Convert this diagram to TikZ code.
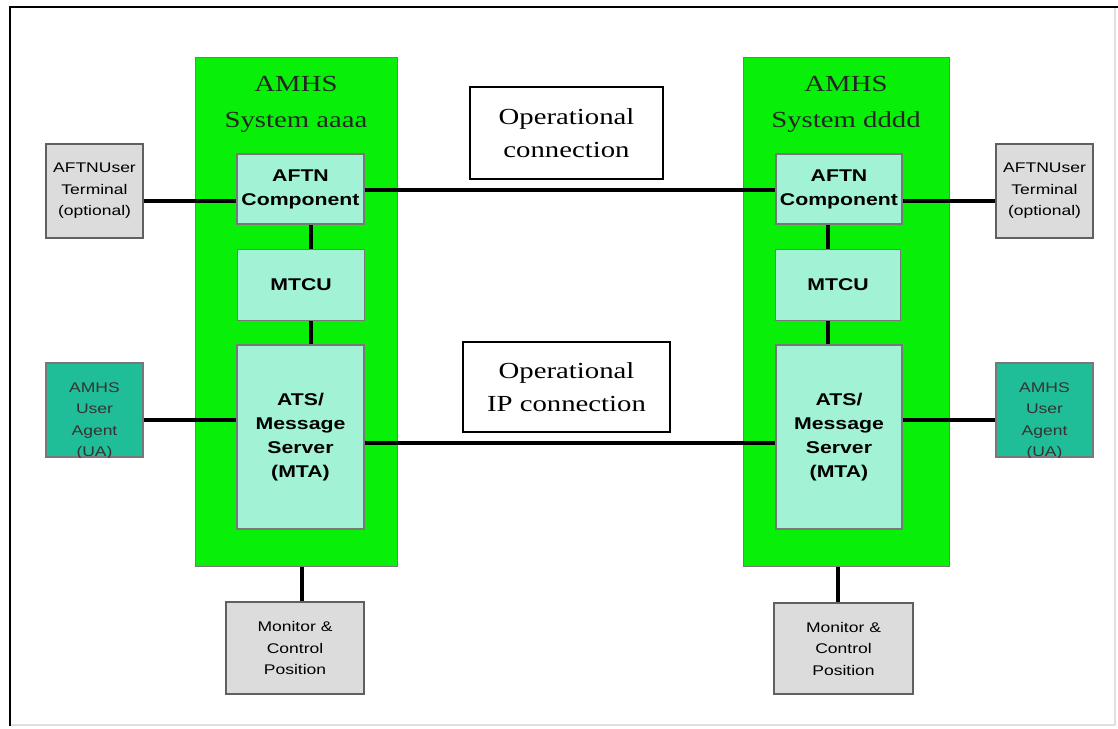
\documentclass[tikz,border=0pt]{standalone}
\usepackage{fontspec}
\newfontfamily\serf{Liberation Serif}[FakeStretch=1.25]
\newfontfamily\sanf{Liberation Sans}[FakeStretch=1.25]
\definecolor{sysgreen}{RGB}{8,240,8}
\definecolor{aqua}{RGB}{162,242,214}
\definecolor{teal}{RGB}{32,190,152}
\definecolor{boxgray}{RGB}{220,220,220}
\definecolor{edgegray}{RGB}{120,120,120}
\begin{document}
\begin{tikzpicture}[x=1pt,y=-1pt,
  sysbox/.style={draw=edgegray,line width=1pt,fill=sysgreen,inner sep=0pt},
  compbox/.style={draw=edgegray,line width=1.5pt,fill=aqua,inner sep=0pt,align=center,
    font=\sanf\bfseries\fontsize{17}{24}\selectfont},
  extbox/.style={draw=edgegray!80!black,line width=1.5pt,fill=boxgray,inner sep=0pt,align=center,
    font=\sanf\fontsize{14}{21.5}\selectfont},
  uabox/.style={draw=edgegray,line width=1.5pt,fill=teal,inner sep=0pt},
  labelbox/.style={draw=black,line width=1.8pt,fill=white,inner sep=0pt,align=center,
    font=\serf\fontsize{23}{33}\selectfont},
  titletext/.style={align=center,font=\serf\fontsize{23}{36}\selectfont,text=black!85},
  conn/.style={line width=3.4pt,draw=black}
]
\useasboundingbox (0,0) rectangle (1118,728);
\fill[white] (0,0) rectangle (1118,728);
% frame
\draw[black!12,line width=2pt] (1115,7) -- (1115,725) -- (10,725);
\draw[black,line width=2.8pt] (10,726) -- (10,7) -- (1118,7);

% left system
\node[sysbox,minimum width=202pt,minimum height=509pt] (gL) at (296,311.5) {};
\node[titletext] (ttL) at (296,104) {AMHS\\System aaaa};
\node[compbox,minimum width=127pt,minimum height=70pt] (aL) at (300.5,189) {AFTN\\Component};
\node[compbox,minimum width=127pt,minimum height=71pt] (mL) at (301,285) {MTCU};
\node[compbox,minimum width=127pt,minimum height=184pt] (sL) at (300.5,437) {ATS/\\Message\\Server\\(MTA)};
\node[extbox,minimum width=97pt,minimum height=94pt] (tL) at (94.5,191) {AFTNUser\\Terminal\\(optional)};
\node[uabox,minimum width=97pt,minimum height=94pt] (uL) at (94.5,410) {};
\begin{scope}
  \clip (uL.south west) rectangle (uL.north east);
  \node[align=center,font=\sanf\fontsize{14}{21.5}\selectfont,text=black!80] (uLt) at (94.5,421) {AMHS\\User\\Agent\\(UA)};
\end{scope}
\node[extbox,minimum width=138pt,minimum height=92pt] (cL) at (295,648) {Monitor \&\\Control\\Position};

% right system
\node[sysbox,minimum width=206pt,minimum height=509pt] (gR) at (846,311.5) {};
\node[titletext] (ttR) at (846,104) {AMHS\\System dddd};
\node[compbox,minimum width=126pt,minimum height=70pt] (aR) at (839,189) {AFTN\\Component};
\node[compbox,minimum width=125pt,minimum height=71pt] (mR) at (838,285) {MTCU};
\node[compbox,minimum width=126pt,minimum height=184pt] (sR) at (839,437) {ATS/\\Message\\Server\\(MTA)};
\node[extbox,minimum width=97pt,minimum height=94pt] (tR) at (1044.5,191) {AFTNUser\\Terminal\\(optional)};
\node[uabox,minimum width=97pt,minimum height=94pt] (uR) at (1044.5,410) {};
\begin{scope}
  \clip (uR.south west) rectangle (uR.north east);
  \node[align=center,font=\sanf\fontsize{14}{21.5}\selectfont,text=black!80] (uRt) at (1044.5,421) {AMHS\\User\\Agent\\(UA)};
\end{scope}
\node[extbox,minimum width=139pt,minimum height=91pt] (cR) at (843.5,648.5) {Monitor \&\\Control\\Position};

% label boxes
\node[labelbox,minimum width=193pt,minimum height=92pt] (op1) at (566.5,133) {Operational\\connection};
\node[labelbox,minimum width=207pt,minimum height=90pt] (op2) at (566.5,387) {Operational\\IP connection};

% helper coordinates for connector heights
\coordinate (yTop) at (0,190);
\coordinate (yTerm) at (0,201);
\coordinate (yUA) at (0,420);
\coordinate (yIP) at (0,443);
\coordinate (xL) at (311,0);
\coordinate (xR) at (828,0);
\coordinate (xML) at (302,0);
\coordinate (xMR) at (838,0);

% connectors
\draw[conn] (aL.east |- yTop) -- (aR.west |- yTop);
\draw[conn] (sL.east |- yIP) -- (sR.west |- yIP);
\draw[conn] (tL.east |- yTerm) -- (aL.west |- yTerm);
\draw[conn] (aR.east |- yTerm) -- (tR.west |- yTerm);
\draw[conn] (uL.east |- yUA) -- (sL.west |- yUA);
\draw[conn] (sR.east |- yUA) -- (uR.west |- yUA);
\draw[conn] (xL |- aL.south) -- (xL |- mL.north);
\draw[conn] (xL |- mL.south) -- (xL |- sL.north);
\draw[conn] (xR |- aR.south) -- (xR |- mR.north);
\draw[conn] (xR |- mR.south) -- (xR |- sR.north);
\draw[conn] (xML |- gL.south) -- (xML |- cL.north);
\draw[conn] (xMR |- gR.south) -- (xMR |- cR.north);
\end{tikzpicture}
\end{document}
